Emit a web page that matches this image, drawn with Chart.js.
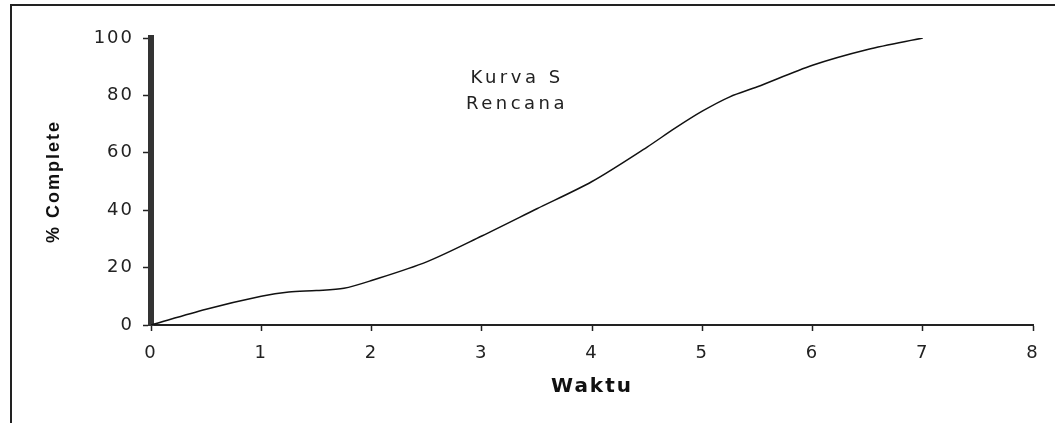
<!DOCTYPE html>
<html>
<head>
<meta charset="utf-8">
<script src="https://cdn.jsdelivr.net/npm/chart.js@4"></script>
<style>
  html, body { margin: 0; padding: 0; background: #fff; overflow: hidden; }
  #wrap { width: 1055px; height: 423px; }
</style>
</head>
<body>
<div id="wrap"><canvas id="kurvaS"></canvas></div>
<script>
// waktu (sumbu X) dan % complete (sumbu Y)
const WAKTU = [0, 0.5, 1, 1.25, 1.5, 1.75, 2, 2.5, 3, 3.5, 4, 4.5, 4.75, 5, 5.25, 5.5, 6, 6.5, 7];
const PERSEN = [0, 5.5, 10, 11.5, 12, 12.8, 15.5, 22, 31, 40.5, 50, 62, 68.5, 74.5, 79.5, 83, 90.5, 96, 100];
const X_TICKS = [0, 1, 2, 3, 4, 5, 6, 7, 8];
const Y_TICKS = [0, 20, 40, 60, 80, 100];
const KETERANGAN = ['Kurva S', 'Rencana'];

const TEKS = '#222';

// bingkai luar + spasi huruf (gambar asli agak melebar)
const bingkai = {
    id: 'bingkai',
    beforeDraw(chart) {
        const ctx = chart.ctx;
        ctx.letterSpacing = '2px';
        ctx.save();
        ctx.strokeStyle = '#222';
        ctx.lineWidth = 2;
        ctx.beginPath();
        ctx.moveTo(11, 424);
        ctx.lineTo(11, 5);
        ctx.lineTo(1056, 5);
        ctx.stroke();
        ctx.restore();
    },
    afterDatasetsDraw(chart) {
        const ctx = chart.ctx;
        const x = chart.scales.x.getPixelForValue(3.32);
        ctx.save();
        ctx.letterSpacing = '3.5px';
        ctx.fillStyle = TEKS;
        ctx.font = '18px "DejaVu Sans"';
        ctx.textAlign = 'center';
        ctx.textBaseline = 'middle';
        ctx.fillText(KETERANGAN[0], x, chart.scales.y.getPixelForValue(85.8));
        ctx.fillText(KETERANGAN[1], x, chart.scales.y.getPixelForValue(77));
        ctx.restore();
    }
};

new Chart(document.getElementById('kurvaS').getContext('2d'), {
    type: 'line',
    data: {
        datasets: [{
            label: 'Rencana',
            data: WAKTU.map((w, i) => ({ x: w, y: PERSEN[i] })),
            borderColor: '#111',
            borderWidth: 1.5,
            pointRadius: 0,
            fill: false,
            tension: 0.3
        }]
    },
    options: {
        responsive: true,
        maintainAspectRatio: false,
        animation: false,
        layout: { padding: { left: 41, right: 22, top: 38, bottom: 21 } },
        plugins: {
            legend: { display: false },
            tooltip: { enabled: false }
        },
        scales: {
            x: {
                type: 'linear',
                min: 0,
                max: 8,
                afterBuildTicks: s => { s.ticks = X_TICKS.map(v => ({ value: v })); },
                afterFit: s => { s.height = 77; },
                border: { color: '#222', width: 2 },
                grid: { drawOnChartArea: false, drawTicks: true, tickLength: 6, tickColor: '#222', tickWidth: 1.5 },
                ticks: { color: TEKS, font: { family: 'DejaVu Sans', size: 18 }, padding: 12 },
                title: {
                    display: true,
                    text: 'Waktu',
                    color: '#111',
                    font: { family: 'DejaVu Sans', size: 20, weight: 'bold' },
                    padding: { top: 4, bottom: 3 }
                }
            },
            y: {
                min: 0,
                max: 100,
                afterBuildTicks: s => { s.ticks = Y_TICKS.map(v => ({ value: v })); },
                afterFit: s => { s.width = 110; },
                border: { color: '#333', width: 6, dash: [2, 1] },
                grid: { drawOnChartArea: false, drawTicks: true, tickLength: 8, tickColor: '#222', tickWidth: 1.5 },
                ticks: { color: TEKS, font: { family: 'DejaVu Sans', size: 18 }, padding: 9 },
                title: {
                    display: true,
                    text: '% Complete',
                    color: '#111',
                    font: { family: 'Liberation Sans', size: 18, weight: 'bold' },
                    padding: { top: 2, bottom: 4 }
                }
            }
        }
    },
    plugins: [bingkai]
});
</script>
</body>
</html>
